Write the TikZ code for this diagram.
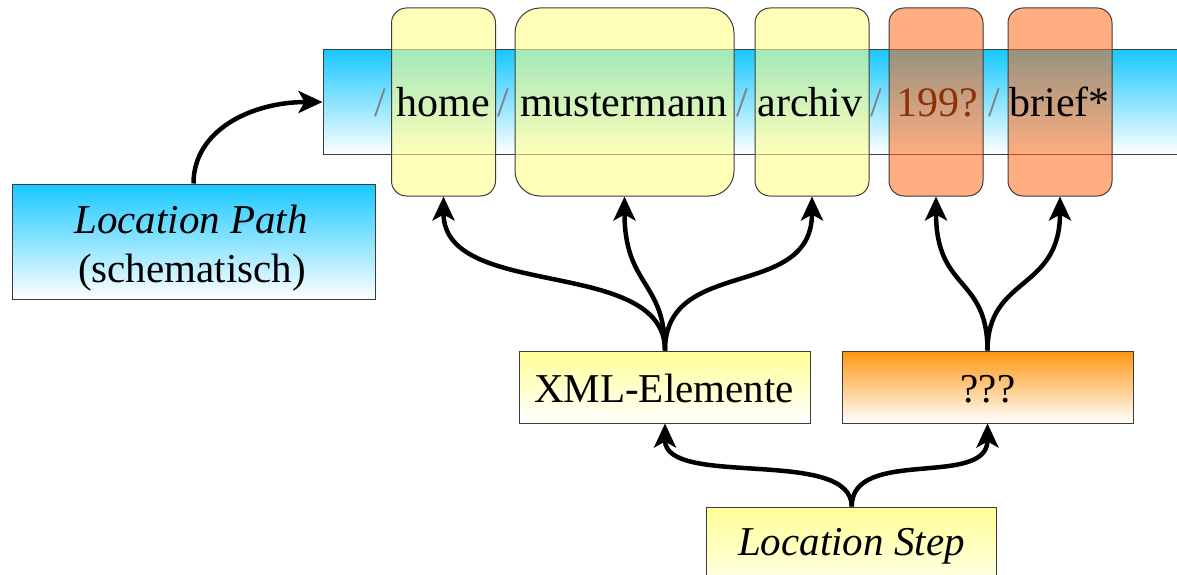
\documentclass[tikz,border=0pt]{standalone}
\usepackage{fontspec}
\setmainfont{Liberation Serif}
\usetikzlibrary{arrows.meta}
\definecolor{cyanTop}{RGB}{25,200,255}
\definecolor{yelTop}{RGB}{255,255,150}
\definecolor{orTop}{RGB}{255,150,15}
\definecolor{rYel}{RGB}{255,255,140}
\definecolor{rOr}{RGB}{255,105,25}
\definecolor{brownTxt}{RGB}{140,50,5}
\definecolor{edge}{RGB}{60,60,60}
\tikzset{
  big/.style={font=\fontsize{41}{49}\selectfont},
  barword/.style={font=\fontsize{42}{50}\selectfont, inner sep=0pt, anchor=base},
  slash/.style={barword, text=black!50},
  sqbox/.style={draw=edge, line width=1pt, inner sep=0pt},
  rbox/.style={draw=edge, line width=1pt, inner sep=0pt, minimum height=188pt, rounded corners=15pt, fill opacity=0.6},
  ybox/.style={rbox, fill=rYel},
  obox/.style={rbox, fill=rOr, fill opacity=0.55},
  conn/.style={line width=4.5pt, -{Stealth[length=24pt,width=22pt,inset=6pt]}},
}
\begin{document}
\begin{tikzpicture}[x=1pt,y=-1pt]
\useasboundingbox (0,0) rectangle (1177,575);
% location path bar
\node[sqbox, top color=cyanTop, bottom color=white, minimum width=860pt, minimum height=104pt] (bar) at (753,102) {};
% rounded overlays
\node[ybox, minimum width=104pt] (rhome) at (443.5,102) {};
\node[ybox, minimum width=219pt, rounded corners=25pt] (rmuster) at (624.5,102) {};
\node[ybox, minimum width=114pt] (rarchiv) at (812,102) {};
\node[obox, minimum width=94pt] (r199) at (936,102) {};
\node[obox, minimum width=104pt] (rbrief) at (1060,102) {};
% bar text
\node[slash] (s1) at (380,117) {/};
\node[barword] (thome) at (443,117) {home};
\node[slash] (s2) at (503.5,117) {/};
\node[barword] (tmuster) at (624,117) {mustermann};
\node[slash] (s3) at (742,117) {/};
\node[barword] (tarchiv) at (810,117) {archiv};
\node[slash] (s4) at (876,117) {/};
\node[barword, text=brownTxt] (t199) at (937,117) {199?};
\node[slash] (s5) at (994,117) {/};
\node[barword] (tbrief) at (1059.5,117) {brief*};
% lower boxes
\node[sqbox, top color=cyanTop, bottom color=white, minimum width=363pt, minimum height=115pt] (lpath) at (193.5,241.5) {};
\node[big, inner sep=0pt, anchor=base] (lpathA) at (191,233) {\itshape Location Path};
\node[big, inner sep=0pt, anchor=base] (lpathB) at (192,282) {(schematisch)};
\node[sqbox, top color=yelTop, bottom color=white, minimum width=291pt, minimum height=72pt] (xml) at (665,387) {};
\node[big, inner sep=0pt, anchor=base] (xmlT) at (664,402.5) {XML-Elemente};
\node[sqbox, top color=orTop, bottom color=white, minimum width=291pt, minimum height=72pt] (qqq) at (987.5,387) {};
\node[big, inner sep=0pt, anchor=base] (qqqT) at (988,402.5) {???};
\node[sqbox, top color=yelTop, bottom color=white, minimum width=290pt, minimum height=100pt] (lstep) at (851.7,557) {};
\node[big, inner sep=0pt, anchor=base] (lstepT) at (851.5,555.7) {\itshape Location Step};
% connectors
\draw[conn] (lpath.north) .. controls +(0,-54) and +(-70,0) .. (bar.west);
\draw[conn] (xml.north) .. controls +(0,-95) and +(0,105) .. (rhome.south);
\draw[conn] (xml.north) .. controls +(0,-70) and +(0,90) .. (rmuster.south);
\draw[conn] (xml.north) .. controls +(0,-95) and +(0,105) .. (rarchiv.south);
\draw[conn] (qqq.north) .. controls +(0,-75) and +(0,95) .. (r199.south);
\draw[conn] (qqq.north) .. controls +(0,-75) and +(0,95) .. (rbrief.south);
\draw[conn] (lstep.north) .. controls +(0,-60) and +(0,65) .. (xml.south);
\draw[conn] (lstep.north) .. controls +(0,-60) and +(0,65) .. (qqq.south);
\end{tikzpicture}
\end{document}
